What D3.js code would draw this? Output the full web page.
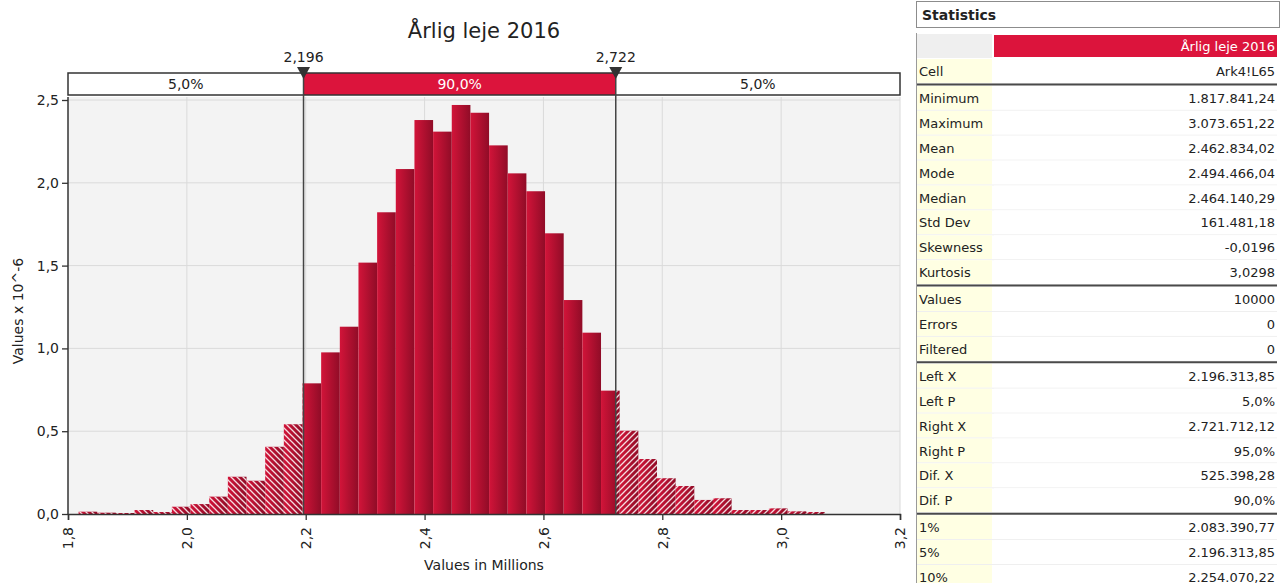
<!DOCTYPE html>
<html>
<head>
<meta charset="utf-8">
<script src="https://cdn.jsdelivr.net/npm/d3@7"></script>
<style>
  body { margin: 0; background: #fff; }
  text { font-family: "DejaVu Sans", sans-serif; fill: #222; }
</style>
</head>
<body>
<svg id="chart" width="1283" height="583"></svg>
<script>
// chart data
const title = 'Årlig leje 2016';
const simMin = 1.81784124;   // millions
const simMax = 3.07365122;
const binCount = 40;
// density per bin, in units of 10^-6
const density = [
  0.014, 0.008, 0.006, 0.024, 0.012, 0.044, 0.060, 0.105, 0.225, 0.201,
  0.406, 0.542, 0.789, 0.976, 1.131, 1.518, 1.822, 2.083, 2.379, 2.309,
  2.470, 2.423, 2.226, 2.057, 1.949, 1.695, 1.292, 1.095, 0.745, 0.503,
  0.332, 0.216, 0.169, 0.085, 0.095, 0.024, 0.024, 0.034, 0.016, 0.012
];
const leftX = 2.19631385;
const rightX = 2.72171212;
const markerLabels = ['2,196', '2,722'];
const regionLabels = ['5,0%', '90,0%', '5,0%'];
const xTicks = [1.8, 2.0, 2.2, 2.4, 2.6, 2.8, 3.0, 3.2];
const yTicks = [0, 0.5, 1.0, 1.5, 2.0, 2.5];

// statistics table
const statHeader = 'Årlig leje 2016';
const statLabels = ['Cell', 'Minimum', 'Maximum', 'Mean', 'Mode', 'Median', 'Std Dev', 'Skewness', 'Kurtosis',
  'Values', 'Errors', 'Filtered', 'Left X', 'Left P', 'Right X', 'Right P', 'Dif. X', 'Dif. P', '1%', '5%', '10%'];
const statValues = ['Ark4!L65', '1.817.841,24', '3.073.651,22', '2.462.834,02', '2.494.466,04', '2.464.140,29',
  '161.481,18', '-0,0196', '3,0298', '10000', '0', '0', '2.196.313,85', '5,0%', '2.721.712,12', '95,0%',
  '525.398,28', '90,0%', '2.083.390,77', '2.196.313,85', '2.254.070,22'];
const statBreaks = [0, 8, 11, 17]; // thick line after these rows

const red = '#dc143c';
const fmt = (v) => d3.format('.1f')(v).replace('.', ',');

const svg = d3.select('#chart');
const defs = svg.append('defs');

const x = d3.scaleLinear().domain([1.8, 3.2]).range([68, 900]);
const y = d3.scaleLinear().domain([0, 2.5]).range([514, 100]);
const plotTop = 97;

// gradient for the bars
const grad = defs.append('linearGradient').attr('id', 'barGrad')
  .attr('x1', 0).attr('x2', 1).attr('y1', 0).attr('y2', 0);
grad.append('stop').attr('offset', 0).attr('stop-color', '#d21439');
grad.append('stop').attr('offset', 1).attr('stop-color', '#900c27');

// hatching, left tail "\" and right tail "/"
function hatch(id, d) {
  defs.append('pattern').attr('id', id)
    .attr('patternUnits', 'userSpaceOnUse')
    .attr('width', 6).attr('height', 6)
    .append('path')
    .attr('d', d)
    .attr('stroke', '#fff')
    .attr('stroke-opacity', 0.85)
    .attr('stroke-width', 1.3);
}
hatch('hatchL', 'M0,0L6,6M-1,5L1,7M5,-1L7,1');
hatch('hatchR', 'M0,6L6,0M-1,1L1,-1M5,7L7,5');

// clip regions
function clip(id, a, b) {
  defs.append('clipPath').attr('id', id)
    .append('rect').attr('x', a).attr('y', 0).attr('width', b - a).attr('height', 583);
}
clip('clipL', 0, x(leftX));
clip('clipM', x(leftX), x(rightX));
clip('clipR', x(rightX), 1283);

// title
svg.append('text')
  .attr('x', 484).attr('y', 38)
  .attr('text-anchor', 'middle')
  .style('font-size', '21px')
  .text(title);

// plot background and grid
svg.append('rect')
  .attr('x', x(1.8)).attr('y', plotTop)
  .attr('width', x(3.2) - x(1.8)).attr('height', y(0) - plotTop)
  .attr('fill', '#f3f3f3');

svg.append('g').selectAll('line')
  .data(xTicks.slice(1))
  .enter().append('line')
  .attr('x1', (d) => x(d)).attr('x2', (d) => x(d))
  .attr('y1', plotTop).attr('y2', y(0))
  .attr('stroke', '#dadada');

svg.append('g').selectAll('line')
  .data(yTicks.slice(1))
  .enter().append('line')
  .attr('x1', x(1.8)).attr('x2', x(3.2))
  .attr('y1', (d) => y(d)).attr('y2', (d) => y(d))
  .attr('stroke', '#dadada');

// histogram bins
const binW = (simMax - simMin) / binCount;
const bins = density.map((v, i) => ({ x0: simMin + i * binW, x1: simMin + (i + 1) * binW, v: v }));

function drawBars(clipId, fill) {
  svg.append('g')
    .attr('clip-path', 'url(#' + clipId + ')')
    .selectAll('rect')
    .data(bins)
    .enter().append('rect')
    .attr('x', (d) => x(d.x0))
    .attr('width', (d) => x(d.x1) - x(d.x0))
    .attr('y', (d) => y(d.v))
    .attr('height', (d) => y(0) - y(d.v))
    .attr('fill', fill);
}
drawBars('clipL', 'url(#barGrad)');
drawBars('clipL', 'url(#hatchL)');
drawBars('clipM', 'url(#barGrad)');
drawBars('clipR', 'url(#barGrad)');
drawBars('clipR', 'url(#hatchR)');

// axes
const xAxis = svg.append('g')
  .attr('transform', 'translate(0,' + y(0) + ')')
  .call(d3.axisBottom(x).tickValues(xTicks).tickSize(6).tickFormat(fmt));
xAxis.select('.domain').attr('stroke', '#333').attr('stroke-width', 1.5);
xAxis.selectAll('.tick line').attr('stroke', '#333').attr('stroke-width', 1.3);
xAxis.selectAll('.tick text')
  .attr('transform', 'rotate(-90)')
  .attr('x', -13).attr('y', 0).attr('dy', '0.35em')
  .attr('text-anchor', 'end')
  .style('font-size', '14px')
  .style('font-family', '"DejaVu Sans", sans-serif')
  .attr('fill', '#222');

const yAxis = svg.append('g')
  .attr('transform', 'translate(' + x(1.8) + ',0)')
  .call(d3.axisLeft(y).tickValues(yTicks).tickSize(6).tickFormat(fmt));
yAxis.select('.domain').attr('d', 'M0,' + plotTop + 'V' + y(0)).attr('stroke', '#333').attr('stroke-width', 1.5);
yAxis.selectAll('.tick line').attr('stroke', '#333').attr('stroke-width', 1.3);
yAxis.selectAll('.tick text')
  .attr('x', -9)
  .style('font-size', '14px')
  .style('font-family', '"DejaVu Sans", sans-serif')
  .attr('fill', '#222');

// axis labels
svg.append('text')
  .attr('transform', 'rotate(-90)')
  .attr('x', -311).attr('y', 23)
  .attr('text-anchor', 'middle')
  .style('font-size', '14px')
  .text('Values x 10^-6');

svg.append('text')
  .attr('x', 484).attr('y', 570)
  .attr('text-anchor', 'middle')
  .style('font-size', '14px')
  .text('Values in Millions');

// delimiter bar above the plot
const barTop = 73, barH = 22;
const edges = [x(1.8), x(leftX), x(rightX), x(3.2)];
svg.append('rect')
  .attr('x', edges[0]).attr('y', barTop)
  .attr('width', edges[3] - edges[0]).attr('height', barH)
  .attr('fill', '#fff');
svg.append('rect')
  .attr('x', edges[1]).attr('y', barTop)
  .attr('width', edges[2] - edges[1]).attr('height', barH)
  .attr('fill', red);
svg.append('rect')
  .attr('x', edges[0]).attr('y', barTop)
  .attr('width', edges[3] - edges[0]).attr('height', barH)
  .attr('fill', 'none').attr('stroke', '#333').attr('stroke-width', 1.5);

svg.append('g').selectAll('text')
  .data(regionLabels)
  .enter().append('text')
  .attr('x', (d, i) => (edges[i] + edges[i + 1]) / 2)
  .attr('y', barTop + 16)
  .attr('text-anchor', 'middle')
  .style('font-size', '14px')
  .style('fill', (d, i) => (i === 1 ? '#fff' : '#222'))
  .text((d) => d);

// delimiter lines, arrows and labels
const markers = [leftX, rightX];
svg.append('g').selectAll('line')
  .data(markers)
  .enter().append('line')
  .attr('x1', (d) => x(d)).attr('x2', (d) => x(d))
  .attr('y1', barTop).attr('y2', y(0))
  .attr('stroke', '#444').attr('stroke-width', 1.5);

svg.append('g').selectAll('path')
  .data(markers)
  .enter().append('path')
  .attr('d', (d) => 'M' + (x(d) - 6.5) + ',67L' + (x(d) + 6.5) + ',67L' + x(d) + ',79Z')
  .attr('fill', '#333');

svg.append('g').selectAll('text')
  .data(markers)
  .enter().append('text')
  .attr('x', (d) => x(d))
  .attr('y', 62)
  .attr('text-anchor', 'middle')
  .style('font-size', '14px')
  .text((d, i) => markerLabels[i]);

// statistics panel
const tx0 = 917, labW = 75, vx0 = 994, valW = 283;
svg.append('rect')
  .attr('x', 916.5).attr('y', 1.5).attr('width', 363).attr('height', 26)
  .attr('fill', '#fff').attr('stroke', '#8c8c8c');
svg.append('text')
  .attr('x', 922).attr('y', 20)
  .style('font-size', '14px').style('font-weight', 'bold')
  .text('Statistics');

svg.append('line')
  .attr('x1', 916.5).attr('x2', 916.5).attr('y1', 33).attr('y2', 583)
  .attr('stroke', '#9a9a9a');

svg.append('rect')
  .attr('x', tx0).attr('y', 34).attr('width', labW).attr('height', 24)
  .attr('fill', '#efefef');
svg.append('rect')
  .attr('x', vx0).attr('y', 35).attr('width', valW).attr('height', 22)
  .attr('fill', red);
svg.append('text')
  .attr('x', 1275).attr('y', 51)
  .attr('text-anchor', 'end')
  .style('font-size', '13px').style('fill', '#fff')
  .text(statHeader);

const rowH = 24.9, sepH = 2;
let rowY = 59;
const rows = statLabels.map((label, i) => {
  const r = { label: label, value: statValues[i], y: rowY };
  rowY += rowH;
  if (statBreaks.includes(i)) rowY += sepH;
  return r;
});

const row = svg.append('g').selectAll('g')
  .data(rows)
  .enter().append('g')
  .attr('transform', (d) => 'translate(0,' + d.y + ')');
row.append('rect')
  .attr('x', tx0).attr('y', 0).attr('width', labW).attr('height', rowH - 1)
  .attr('fill', '#ffffe3');
row.append('rect')
  .attr('x', vx0).attr('y', 0).attr('width', valW).attr('height', rowH - 1)
  .attr('fill', '#fff');
row.append('line')
  .attr('x1', tx0).attr('x2', vx0 + valW).attr('y1', rowH - 0.5).attr('y2', rowH - 0.5)
  .attr('stroke', '#efefef');
row.append('text')
  .attr('x', 919).attr('y', 17)
  .style('font-size', '13px')
  .text((d) => d.label);
row.append('text')
  .attr('x', 1275).attr('y', 17)
  .attr('text-anchor', 'end')
  .style('font-size', '13px')
  .text((d) => d.value);

// thick separators between groups
svg.append('g').selectAll('line')
  .data(statBreaks)
  .enter().append('line')
  .attr('x1', tx0).attr('x2', vx0 + valW)
  .attr('y1', (d) => rows[d].y + rowH + sepH / 2 - 0.5)
  .attr('y2', (d) => rows[d].y + rowH + sepH / 2 - 0.5)
  .attr('stroke', '#4a4a4a').attr('stroke-width', 2);
</script>
</body>
</html>
